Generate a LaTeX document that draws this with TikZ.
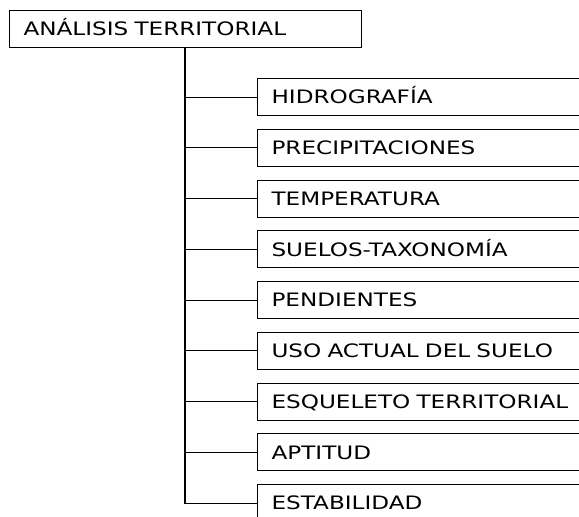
\documentclass[tikz,border=0pt]{standalone}
\usepackage{fontspec}
\usepackage{tikz}
\usetikzlibrary{positioning}

\newfontfamily\cajafont[FakeStretch=1.25]{DejaVu Sans}

\tikzset{
    tema/.style={draw, line width=1.1pt, anchor=north west, minimum height=37pt,
        inner xsep=14pt, inner ysep=0pt, text width=#1, align=left,
        text height=13.5pt, text depth=0pt,
        font=\cajafont\fontsize{18.5}{20}\selectfont},
    rama/.style={line width=1.1pt}
}

\begin{document}
\begin{tikzpicture}[x=1pt, y=-1pt]
        \clip (0,0) rectangle (579,517);

        \node[tema=324pt] (analisis) at (9,10) {ANÁLISIS TERRITORIAL};

        % temas del analisis
        \node[tema=332pt] (t1) at (257,78) {HIDROGRAFÍA};
        \foreach \texto [count=\i from 2, remember=\i as \j (initially 1)] in
            {PRECIPITACIONES, TEMPERATURA, SUELOS-TAXONOMÍA, PENDIENTES,
             USO ACTUAL DEL SUELO, ESQUELETO TERRITORIAL, APTITUD, ESTABILIDAD}
            \node[tema=332pt, below=12.65pt of t\j] (t\i) {\texto};

        \coordinate (tronco) at ([xshift=176pt]analisis.south west);
        \foreach \i in {1,...,8}
            \draw[rama] (tronco |- t\i.west) -- (t\i.west);
        \draw[rama] (tronco) |- (t9.west);
    \end{tikzpicture}
\end{document}
